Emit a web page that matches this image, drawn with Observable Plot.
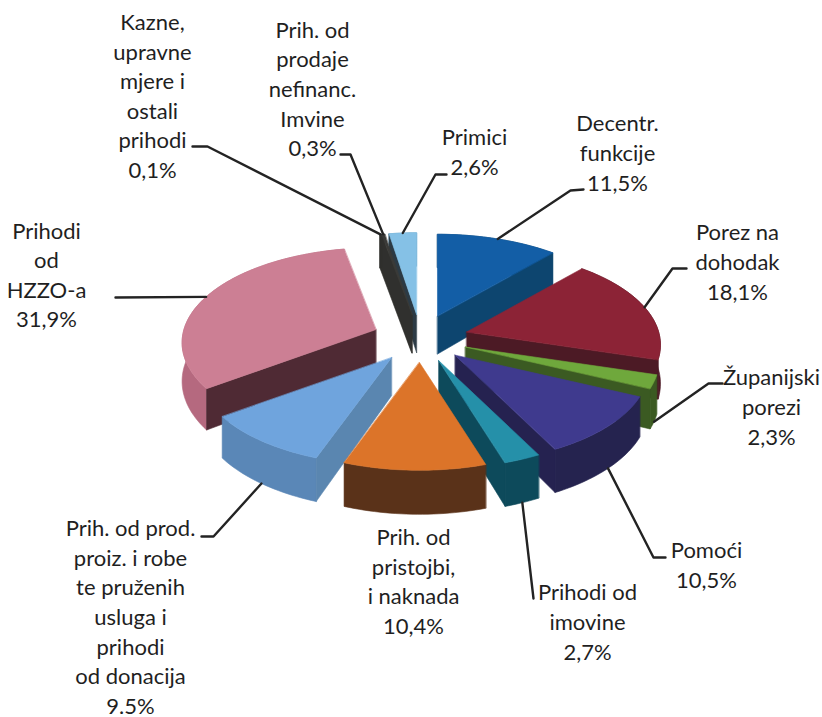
<!DOCTYPE html>
<html><head><meta charset="utf-8">
<style>html,body{margin:0;padding:0;background:#fff}svg{display:block}</style>
<script src="https://cdn.jsdelivr.net/npm/d3@7"></script>
<script src="https://cdn.jsdelivr.net/npm/@observablehq/plot@0.6"></script>
</head><body><div id="c"></div><script>
const categories=["Decentr. funkcije","Porez na dohodak","Županijski porezi","Pomoći","Prihodi od imovine","Prih. od pristojbi, i naknada","Prih. od prod. proiz. i robe te pruženih usluga i prihodi od donacija","Prihodi od HZZO-a","Kazne, upravne mjere i ostali prihodi","Prih. od prodaje nefinanc. Imvine","Primici"];
const values=[11.5,18.1,2.3,10.5,2.7,10.4,9.5,31.9,0.1,0.3,2.6];
const labelLines=[
"Decentr.\nfunkcije\n11,5%","Porez na\ndohodak\n18,1%","Županijski\nporezi\n2,3%","Pomoći\n10,5%","Prihodi od\nimovine\n2,7%","Prih. od\npristojbi,\ni naknada\n10,4%","Prih. od prod.\nproiz. i robe\nte pruženih\nusluga i\nprihodi\nod donacija\n9.5%","Prihodi\nod\nHZZO-a\n31,9%","Kazne,\nupravne\nmjere i\nostali\nprihodi\n0,1%","Prih. od\nprodaje\nnefinanc.\nImvine\n0,3%","Primici\n2,6%"];
const topColors=["#135ea6","#8c2336","#6fa83c","#3f3a8e","#2590a9","#dc7429","#6fa4dd","#cc7f94","#3a3a38","#3a3a38","#85c1e6"];
const cutColors=["#0d456f","#4c1a25","#3b5a22","#252250","#0d4a5b","#5a3219","#5a86b0","#4f2a34","#30302e","#30302e","#2c3a44"];
const wallColors=["#0d456f","#4c1a25","#3b5a22","#25234f","#0d4a5b","#5a3219","#5a87b7","#b5697f","#30302e","#30302e","#5f9cc0"];
// painter's order: indexes into the arrays above, back to front
const drawOrder=[10,8,9,0,7,1,2,3,6,4,5];
// annotation layout: label block centres and leader bends, by slice
const labelPos=[[617,151],[737,260],[771,405],[706,563],[587,620],[413,579.5],[130,615],[46,273],[152,94],[312,87],[474,150]];
const leaderBends=[[[570,190],[583,189]],[[672,268],[686,268]],[[708,383],[722,383]],[[653,557],[665,557]],[[533,598]],[],[[213,536],[201,536]],[[115,297]],[[207,146],[192,146]],[[350,154],[340,154]],[[435,174],[446,174]]];

const cx=420,cy=338,explodeX=48,explodeY=24,R=192,Ry=93,persp=0.137,depth=38;
const sh=d=>1/(1+persp*Math.cos(d));
const total=d3.sum(values);
let acc=0;
const slices=values.map((v,i)=>{const a0=acc/total*2*Math.PI;acc+=v;const a1=acc/total*2*Math.PI;const m=(a0+a1)/2;
  return{i,a0,a1,m,ax:cx+explodeX*Math.sin(m),ay:cy-explodeY*Math.cos(m)}});
const rim=(s,a)=>{const k=sh(a);return[s.ax+R*Math.sin(a)*k,s.ay-Ry*Math.cos(a)*k,depth*k]};
const polys=[];
const add=(id,color,pts)=>pts.forEach(p=>polys.push({id,color,x:p[0],y:p[1]}));
for(const i of drawOrder){const s=slices[i];
  const n=Math.max(4,Math.ceil((s.a1-s.a0)*40));
  const as=d3.range(n+1).map(t=>s.a0+(s.a1-s.a0)*t/n);
  const rp=as.map(a=>rim(s,a));
  const d0=depth*sh(Math.PI/2);
  add(`w${i}`,wallColors[i],[...rp.map(p=>[p[0],p[1]]),...rp.slice().reverse().map(p=>[p[0],p[1]+p[2]])]);
  const A=rp[0],B=rp[n];
  if(A[0]<s.ax)add(`a${i}`,cutColors[i],[[s.ax,s.ay],[A[0],A[1]],[A[0],A[1]+A[2]],[s.ax,s.ay+d0]]);
  if(B[0]>s.ax)add(`b${i}`,cutColors[i],[[s.ax,s.ay],[B[0],B[1]],[B[0],B[1]+B[2]],[s.ax,s.ay+d0]]);
  add(`t${i}`,topColors[i],[[s.ax,s.ay],...rp.map(p=>[p[0],p[1]])]);
}
const anchors=slices.map(s=>{const p=rim(s,s.m);const front=Math.cos(s.m)<0;return[p[0],front?p[1]+p[2]:p[1]]});
const leaders=[];
leaderBends.forEach((b,i)=>{if(!b.length)return;
  [anchors[i],...b].forEach(o=>leaders.push({id:i,x:o[0],y:o[1]}))});
const labels=labelLines.map((t,i)=>({t,x:labelPos[i][0],y:labelPos[i][1]}));

const chart=Plot.plot({width:822,height:717,margin:0,
  x:{domain:[0,822],range:[0,822],axis:null},y:{domain:[0,717],range:[0,717],axis:null},
  color:{type:"identity"},style:{background:"#fff"},
  marks:[
    Plot.line(polys,{x:"x",y:"y",z:"id",fill:"color",stroke:"color",strokeWidth:0.6,curve:"linear-closed"}),
    Plot.line(leaders,{x:"x",y:"y",z:"id",stroke:"#232323",strokeWidth:2.4,curve:"linear"}),
    Plot.text(labels,{x:"x",y:"y",text:"t",textAnchor:"middle",lineAnchor:"middle",lineHeight:1.345,fontSize:22,fontFamily:"Lato",fill:"#1f1f1f"})
  ]});
document.getElementById("c").append(chart);
</script></body></html>
